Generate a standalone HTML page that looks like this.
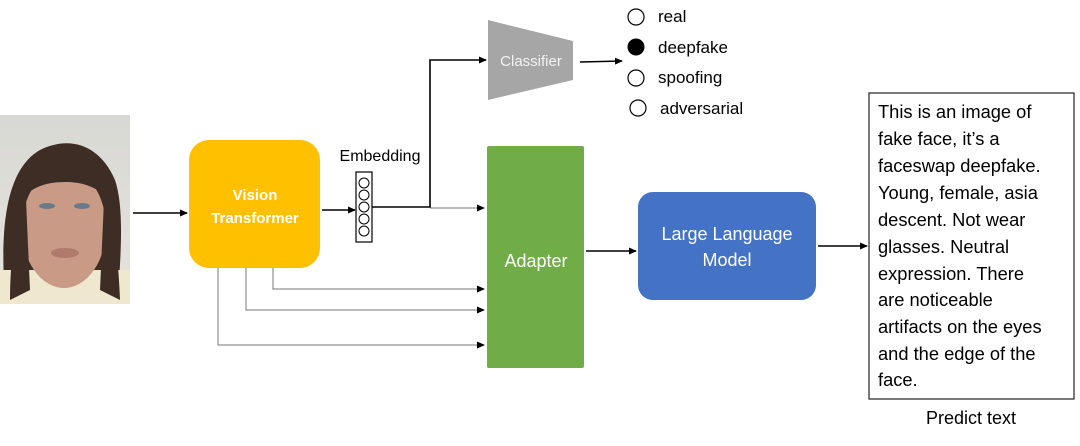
<!DOCTYPE html>
<html><head><meta charset="utf-8"><style>
html,body{margin:0;padding:0;background:#fff;}
svg{display:block;font-family:"Liberation Sans",sans-serif;}
</style></head><body>
<svg width="1080" height="446" viewBox="0 0 1080 446" xmlns="http://www.w3.org/2000/svg">
<defs>
<marker id="a" markerWidth="8" markerHeight="8" refX="7" refY="4" orient="auto" markerUnits="userSpaceOnUse"><path d="M0,0.5 L8,4 L0,7.5 z" fill="#000"/></marker>
<linearGradient id="bg" x1="0" y1="0" x2="0" y2="1"><stop offset="0" stop-color="#d8d8d4"/><stop offset="1" stop-color="#e6e4dc"/></linearGradient>
</defs>
<!-- photo -->
<rect x="0" y="115" width="130" height="189" fill="url(#bg)"/>
<path d="M5,300 C0,230 5,170 40,150 C70,135 100,145 115,180 C125,210 120,260 118,300 Z" fill="#3e2d24"/>
<rect x="0" y="270" width="130" height="34" fill="#efe8cf"/>
<ellipse cx="64" cy="228" rx="42" ry="60" fill="#c99a86"/>
<path d="M22,200 C25,160 50,150 65,150 C90,150 108,165 110,200 C95,185 80,182 65,182 C45,182 30,188 22,200 Z" fill="#3e2d24"/>
<path d="M10,300 C10,250 18,210 26,200 L30,290 Z" fill="#3e2d24"/>
<path d="M120,300 C118,250 112,210 104,200 L100,290 Z" fill="#3e2d24"/>
<ellipse cx="47" cy="206" rx="8" ry="3" fill="#6a7a88"/>
<ellipse cx="82" cy="206" rx="8" ry="3" fill="#6a7a88"/>
<ellipse cx="65" cy="253" rx="14" ry="5" fill="#b07a6c"/>
<!-- arrows -->
<g stroke="#000" stroke-width="1.6" fill="none">
<line x1="133" y1="213" x2="187" y2="213" marker-end="url(#a)"/>
<line x1="322" y1="210" x2="355" y2="210" marker-end="url(#a)"/>
<polyline points="372,207 430,207 430,60 486,60" marker-end="url(#a)"/>
<line x1="580" y1="62" x2="622" y2="61" marker-end="url(#a)"/>
<line x1="586" y1="251" x2="636" y2="251" marker-end="url(#a)"/>
<line x1="818" y1="246" x2="867" y2="246" marker-end="url(#a)"/>
</g>
<g stroke="#777" stroke-width="1" fill="none">
<line x1="430" y1="208" x2="484" y2="208" marker-end="url(#a)"/>
<polyline points="273,266 273,289 484,289" marker-end="url(#a)"/>
<polyline points="246,266 246,310 484,310" marker-end="url(#a)"/>
<polyline points="218,266 218,345 484,345" marker-end="url(#a)"/>
</g>
<!-- ViT -->
<rect x="189" y="140" width="131" height="128" rx="20" fill="#ffc000"/>
<text x="255" y="200" text-anchor="middle" fill="#fff" font-weight="bold" font-size="15">Vision</text>
<text x="255" y="223" text-anchor="middle" fill="#fff" font-weight="bold" font-size="15">Transformer</text>
<!-- embedding -->
<text x="380" y="161" text-anchor="middle" font-size="16">Embedding</text>
<rect x="356" y="172" width="16" height="70" fill="#fff" stroke="#000" stroke-width="1.2"/>
<g fill="none" stroke="#000" stroke-width="1"><circle cx="364" cy="183" r="5"/><circle cx="364" cy="195" r="5"/><circle cx="364" cy="207" r="5"/><circle cx="364" cy="219" r="5"/><circle cx="364" cy="231" r="5"/></g>
<!-- classifier -->
<polygon points="488,20 573,41 573,80 488,100" fill="#a6a6a6"/>
<text x="531" y="66" text-anchor="middle" fill="#f2f2f2" font-size="15">Classifier</text>
<g fill="none" stroke="#000" stroke-width="1.2">
<circle cx="636" cy="17" r="8"/><circle cx="636" cy="78" r="8"/><circle cx="638" cy="108" r="8"/></g>
<circle cx="636" cy="47" r="8.5" fill="#000"/>
<g font-size="17"><text x="658" y="22">real</text><text x="658" y="53">deepfake</text><text x="658" y="83">spoofing</text><text x="660" y="114">adversarial</text></g>
<!-- adapter -->
<rect x="487" y="146" width="97" height="222" rx="2" fill="#70ad47"/>
<text x="536" y="267" text-anchor="middle" fill="#fff" font-size="18">Adapter</text>
<!-- LLM -->
<rect x="638" y="192" width="178" height="108" rx="15" fill="#4472c4"/>
<text x="727" y="240" text-anchor="middle" fill="#fff" font-size="18">Large Language</text>
<text x="727" y="266" text-anchor="middle" fill="#fff" font-size="18">Model</text>
<!-- text box -->
<rect x="869" y="93" width="205" height="306" fill="#fff" stroke="#222" stroke-width="1.2"/>
<g font-size="18.3" fill="#000">
<text x="878" y="118">This is an image of</text>
<text x="878" y="145">fake face, it’s a</text>
<text x="878" y="172">faceswap deepfake.</text>
<text x="878" y="199">Young, female, asia</text>
<text x="878" y="226">descent. Not wear</text>
<text x="878" y="253">glasses. Neutral</text>
<text x="878" y="280">expression. There</text>
<text x="878" y="306">are noticeable</text>
<text x="878" y="333">artifacts on the eyes</text>
<text x="878" y="360">and the edge of the</text>
<text x="878" y="386">face.</text>
</g>
<text x="971" y="424" text-anchor="middle" font-size="18">Predict text</text>
</svg>
</body></html>
